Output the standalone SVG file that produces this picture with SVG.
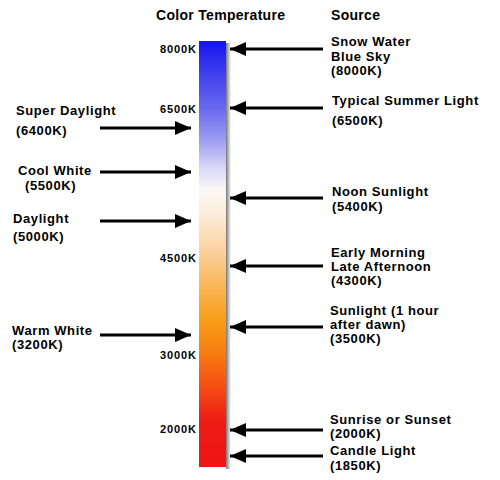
<svg xmlns="http://www.w3.org/2000/svg" width="500" height="480" viewBox="0 0 500 480">
<defs>
<linearGradient id="temp" x1="0" y1="0" x2="0" y2="1">
<stop offset="0" stop-color="#1414f0"/>
<stop offset="0.068" stop-color="#3a3aee"/>
<stop offset="0.157" stop-color="#6868ee"/>
<stop offset="0.232" stop-color="#9c9cf2"/>
<stop offset="0.303" stop-color="#dcdcf8"/>
<stop offset="0.35" stop-color="#fbf8f6"/>
<stop offset="0.408" stop-color="#fcecd8"/>
<stop offset="0.49" stop-color="#fad2a0"/>
<stop offset="0.585" stop-color="#f8b450"/>
<stop offset="0.655" stop-color="#f89e18"/>
<stop offset="0.725" stop-color="#f88010"/>
<stop offset="0.82" stop-color="#f44a14"/>
<stop offset="0.89" stop-color="#ee1c14"/>
<stop offset="1" stop-color="#ee1414"/>
</linearGradient>
<linearGradient id="shadow" x1="0" y1="0" x2="1" y2="0">
<stop offset="0" stop-color="#777"/>
<stop offset="1" stop-color="#fff"/>
</linearGradient>
<marker id="head" markerUnits="userSpaceOnUse" markerWidth="17" markerHeight="14" refX="16" refY="7" orient="auto">
<path d="M0,0 L16,7 L0,14 Z" fill="#000"/>
</marker>
<style>
text{font-family:"Liberation Sans",Arial,sans-serif;font-weight:bold;fill:#000}
.t{font-size:14px;letter-spacing:0.3px}
.lbl{font-size:13px;letter-spacing:0.6px}
.sc{font-size:11px}
.arr{stroke:#000;stroke-width:3;fill:none;marker-end:url(#head)}
</style>
</defs>
<rect width="500" height="480" fill="#fff"/>
<g id="titles">
<text class="t" x="156" y="20">Color Temperature</text>
<text class="t" x="331" y="20">Source</text>
</g>
<g id="bar">
<rect x="226" y="43" width="5" height="426" fill="url(#shadow)"/>
<rect x="199" y="41" width="27" height="426" fill="url(#temp)"/>
</g>
<g id="scale">
<text class="sc" x="160" y="53" textLength="36">8000K</text>
<text class="sc" x="160" y="113" textLength="36">6500K</text>
<text class="sc" x="160" y="262" textLength="36">4500K</text>
<text class="sc" x="160" y="359" textLength="36">3000K</text>
<text class="sc" x="160" y="433" textLength="36">2000K</text>
</g>
<g id="connectors">
<path class="arr" d="M100,128 H191"/>
<path class="arr" d="M100,172 H191"/>
<path class="arr" d="M100,221 H191"/>
<path class="arr" d="M100,335 H191"/>
<path class="arr" d="M323,49 H230"/>
<path class="arr" d="M323,108 H230"/>
<path class="arr" d="M323,198 H230"/>
<path class="arr" d="M323,266 H230"/>
<path class="arr" d="M323,327 H230"/>
<path class="arr" d="M323,430 H230"/>
<path class="arr" d="M323,456 H230"/>
</g>
<g id="super-daylight"><text class="lbl" x="16" y="115">Super Daylight</text><text class="lbl" x="16" y="135">(6400K)</text></g>
<g id="cool-white"><text class="lbl" x="18" y="175">Cool White</text><text class="lbl" x="25" y="190">(5500K)</text></g>
<g id="daylight"><text class="lbl" x="13" y="223">Daylight</text><text class="lbl" x="13" y="241">(5000K)</text></g>
<g id="warm-white"><text class="lbl" x="12" y="335">Warm White</text><text class="lbl" x="12" y="349">(3200K)</text></g>
<g id="snow-water"><text class="lbl" x="331" y="46">Snow Water</text><text class="lbl" x="331" y="61">Blue Sky</text><text class="lbl" x="331" y="75">(8000K)</text></g>
<g id="summer-light"><text class="lbl" x="332" y="105">Typical Summer Light</text><text class="lbl" x="332" y="125">(6500K)</text></g>
<g id="noon-sunlight"><text class="lbl" x="332" y="196">Noon Sunlight</text><text class="lbl" x="332" y="211">(5400K)</text></g>
<g id="early-morning"><text class="lbl" x="331" y="257">Early Morning</text><text class="lbl" x="331" y="271">Late Afternoon</text><text class="lbl" x="331" y="285">(4300K)</text></g>
<g id="sunlight-hour"><text class="lbl" x="330" y="315">Sunlight (1 hour</text><text class="lbl" x="330" y="329">after dawn)</text><text class="lbl" x="330" y="343">(3500K)</text></g>
<g id="sunrise"><text class="lbl" x="330" y="424">Sunrise or Sunset</text><text class="lbl" x="330" y="438">(2000K)</text></g>
<g id="candle"><text class="lbl" x="330" y="455">Candle Light</text><text class="lbl" x="330" y="470">(1850K)</text></g>
</svg>
